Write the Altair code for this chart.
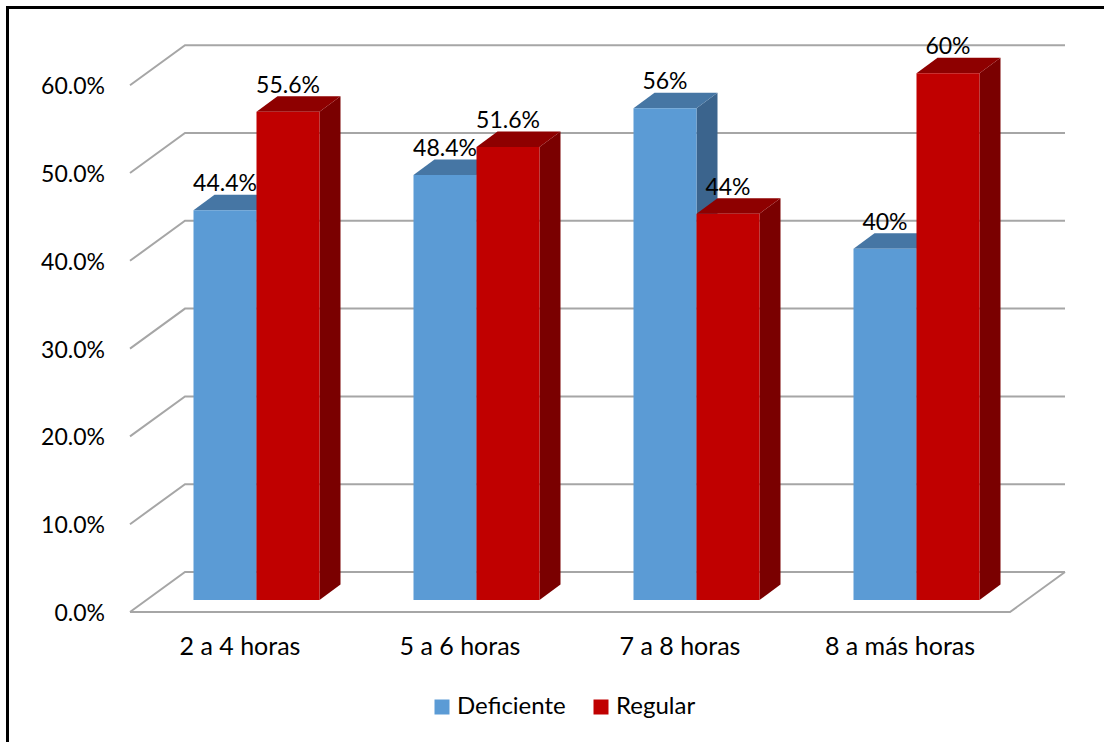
import altair as alt
import pandas as pd

# ---- values -------------------------------------------------------------
categories = ["2 a 4 horas", "5 a 6 horas", "7 a 8 horas", "8 a más horas"]
series = ["Deficiente", "Regular"]
deficiente = [44.4, 48.4, 56.0, 40.0]
regular = [55.6, 51.6, 44.0, 60.0]
deficiente_labels = ["44.4%", "48.4%", "56%", "40%"]
regular_labels = ["55.6%", "51.6%", "44%", "60%"]
tick_values = [0, 10, 20, 30, 40, 50, 60]
tick_labels = ["0.0%", "10.0%", "20.0%", "30.0%", "40.0%", "50.0%", "60.0%"]

# ---- styling ------------------------------------------------------------
front_colors = ["#5B9BD5", "#C00000"]
top_colors = ["#4676A4", "#8E0000"]
side_colors = ["#3B648D", "#7A0000"]
grid_color = "#A6A6A6"
FONT = "Lato"
NUM_SIZE = 23      # numeric labels
CAT_SIZE = 25      # category labels
LEG_SIZE = 24      # legend labels

# ---- canvas and pseudo-3D geometry (x in category units, y in percent) --
W, H = 1104, 742
PX_X = 220.0          # pixels per category
PX_Y = 8.78           # pixels per percentage point
ORIGIN_X = 130.0      # front-left corner of the floor
BASE_Y = 600.0        # bar base line
x_domain = [-ORIGIN_X / PX_X, (W - ORIGIN_X) / PX_X]
y_domain = [-(H - BASE_Y) / PX_Y, BASE_Y / PX_Y]

FLOOR_FRONT = -12.0 / PX_Y        # front edge of the floor
DEPTH_X = 55.0 / PX_X             # floor depth, horizontal shift
DEPTH_Y = 40.0 / PX_Y             # floor depth, vertical shift
BAR_SHIFT = 0.3 * DEPTH_X         # bars stand slightly behind the front edge
BAR_W = 63.0 / PX_X
BAR_DX = 21.0 / PX_X
BAR_DY = 15.5 / PX_Y

xs = alt.Scale(domain=x_domain, zero=False, nice=False)
ys = alt.Scale(domain=y_domain, zero=False, nice=False)
n = len(categories)

# gridlines: diagonal on the left wall, then horizontal along the back wall
grid_rows = []
for v in tick_values:
    pts = [(0.0, v + FLOOR_FRONT),
           (DEPTH_X, v + FLOOR_FRONT + DEPTH_Y),
           (n + DEPTH_X, v + FLOOR_FRONT + DEPTH_Y)]
    for k, (gx, gy) in enumerate(pts):
        grid_rows.append({"line": f"g{v}", "k": k, "x": gx, "y": gy})
floor_pts = [(0.0, FLOOR_FRONT), (float(n), FLOOR_FRONT),
             (n + DEPTH_X, FLOOR_FRONT + DEPTH_Y)]
for k, (gx, gy) in enumerate(floor_pts):
    grid_rows.append({"line": "floor", "k": k, "x": gx, "y": gy})
grid_df = pd.DataFrame(grid_rows)

# bar faces
front_rows, top_rows, side_rows, label_rows = [], [], [], []
values = [deficiente, regular]
labels = [deficiente_labels, regular_labels]
for i, cat in enumerate(categories):
    center = i + 0.5 + BAR_SHIFT
    for s, name in enumerate(series):
        v = values[s][i]
        left = center - BAR_W + s * BAR_W
        right = left + BAR_W
        front_rows.append({"series": name, "cat": cat, "l": left, "r": right,
                           "v": v, "base": 0.0})
        face = f"{i}-{s}"
        for px, py, py2 in [(left, v, v),
                            (left + BAR_DX, v + BAR_DY, v),
                            (right, v + BAR_DY, v),
                            (right + BAR_DX, v + BAR_DY, v + BAR_DY)]:
            top_rows.append({"face": face, "x": px, "y": py, "y2": py2,
                             "shade": top_colors[s]})
        for px, py, py2 in [(right, v, 0.0),
                            (right + BAR_DX, v + BAR_DY, BAR_DY)]:
            side_rows.append({"face": face, "x": px, "y": py, "y2": py2,
                              "shade": side_colors[s]})
        label_rows.append({"x": (left + right) / 2, "y": v,
                           "text": labels[s][i]})

front_df = pd.DataFrame(front_rows)
top_df = pd.DataFrame(top_rows)
side_df = pd.DataFrame(side_rows)
label_df = pd.DataFrame(label_rows)
tick_df = pd.DataFrame({"y": [v + FLOOR_FRONT for v in tick_values],
                        "text": tick_labels, "x": 0.0})
cat_df = pd.DataFrame({"x": [i + 0.5 for i in range(n)],
                       "y": FLOOR_FRONT, "text": categories})

# ---- layers ---------------------------------------------------------------
grid = alt.Chart(grid_df).mark_line(color=grid_color, strokeWidth=2).encode(
    x=alt.X("x:Q", scale=xs, axis=None),
    y=alt.Y("y:Q", scale=ys, axis=None),
    detail="line:N",
    order="k:Q",
)

sides = alt.Chart(side_df).mark_area(orient="vertical").encode(
    x=alt.X("x:Q", scale=xs, axis=None),
    y=alt.Y("y:Q", scale=ys, axis=None),
    y2="y2:Q",
    detail="face:N",
    fill=alt.Fill("shade:N", scale=None),
)

tops = alt.Chart(top_df).mark_area(orient="vertical").encode(
    x=alt.X("x:Q", scale=xs, axis=None),
    y=alt.Y("y:Q", scale=ys, axis=None),
    y2="y2:Q",
    detail="face:N",
    fill=alt.Fill("shade:N", scale=None),
)

fronts = alt.Chart(front_df).mark_rect().encode(
    x=alt.X("l:Q", scale=xs, axis=None),
    x2="r:Q",
    y=alt.Y("v:Q", scale=ys, axis=None),
    y2="base:Q",
    color=alt.Color(
        "series:N",
        scale=alt.Scale(domain=series, range=front_colors),
        legend=alt.Legend(
            title=None, orient="none", direction="horizontal",
            legendX=430, legendY=695,
            symbolType="square", symbolSize=225, symbolStrokeWidth=0,
            labelFont=FONT, labelFontSize=LEG_SIZE, labelColor="#000000",
            labelOffset=3, columnPadding=23, padding=0,
        ),
    ),
)

bar_labels = alt.Chart(label_df).mark_text(
    font=FONT, fontSize=NUM_SIZE, color="#000000", baseline="middle",
    align="center", dy=-26,
).encode(
    x=alt.X("x:Q", scale=xs, axis=None),
    y=alt.Y("y:Q", scale=ys, axis=None),
    text="text:N",
)

tick_text = alt.Chart(tick_df).mark_text(
    font=FONT, fontSize=NUM_SIZE, color="#000000", baseline="middle",
    align="right", dx=-25, dy=2,
).encode(
    x=alt.X("x:Q", scale=xs, axis=None),
    y=alt.Y("y:Q", scale=ys, axis=None),
    text="text:N",
)

cat_text = alt.Chart(cat_df).mark_text(
    font=FONT, fontSize=CAT_SIZE, color="#000000", baseline="middle",
    align="center", dy=35,
).encode(
    x=alt.X("x:Q", scale=xs, axis=None),
    y=alt.Y("y:Q", scale=ys, axis=None),
    text="text:N",
)

# outer frame (left and top edges)
frame_left = alt.Chart(pd.DataFrame({"k": [0]})).mark_rule(
    color="#000000", strokeWidth=3).encode(
    x=alt.value(7.5), y=alt.value(6), y2=alt.value(H))
frame_top = alt.Chart(pd.DataFrame({"k": [0]})).mark_rule(
    color="#000000", strokeWidth=3).encode(
    y=alt.value(7.5), x=alt.value(6), x2=alt.value(W))

chart = alt.layer(
    grid, sides, tops, fronts, bar_labels, tick_text, cat_text,
    frame_left, frame_top,
).properties(
    width=W, height=H, padding=0, autosize="none", background="#FFFFFF",
).configure_view(stroke=None)

chart.save("out.html", embed_options={"renderer": "svg", "actions": False})
